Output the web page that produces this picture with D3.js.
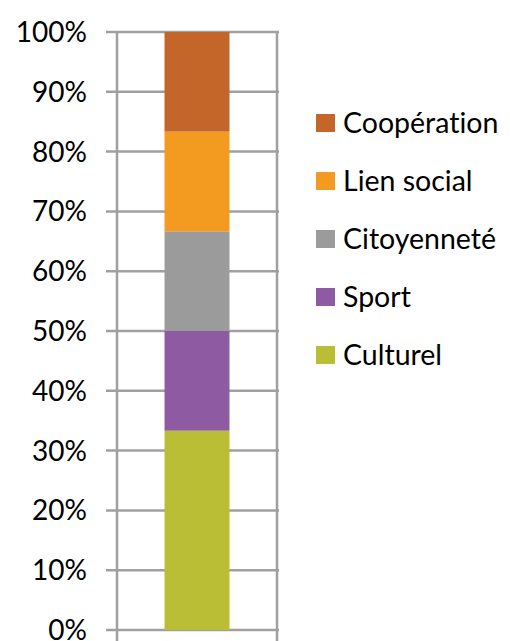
<!DOCTYPE html>
<html>
<head>
    <meta charset="utf-8">
    <script src="https://d3js.org/d3.v7.min.js"></script>
    <style>
        body { margin: 0; background: #fff; }
        .tick-label { font-family: 'Lato', sans-serif; font-size: 28px; fill: #000; }
        .legend text { font-family: 'Lato', sans-serif; font-size: 28.5px; fill: #000; font-variant-ligatures: none; }
    </style>
</head>
<body>
<script>
    // chart data
    var categories = ["Total"];
    var seriesNames = ["Culturel", "Sport", "Citoyenneté", "Lien social", "Coopération"];
    var seriesValues = [0.3333, 0.1667, 0.1667, 0.1667, 0.1666];
    var seriesColors = ["#BABE34", "#8E5BA2", "#9B9B9B", "#F39A21", "#C4662A"];
    var tickValues = [0, 0.1, 0.2, 0.3, 0.4, 0.5, 0.6, 0.7, 0.8, 0.9, 1];

    var svg = d3.select("body").append("svg")
        .attr("width", 510)
        .attr("height", 641);

    var y = d3.scaleLinear().domain([0, 1]).range([630, 32]);
    var x = d3.scaleBand().domain(categories).range([117, 277]).padding(0);
    var color = d3.scaleOrdinal().domain(seriesNames).range(seriesColors);

    // build table for stacking
    var row = { cat: categories[0] };
    seriesNames.forEach(function(k, i) { row[k] = seriesValues[i]; });
    var stacked = d3.stack().keys(seriesNames)([row]);

    // horizontal gridlines
    svg.append("g")
        .selectAll("line")
        .data(tickValues)
        .join("line")
        .attr("x1", 106)
        .attr("x2", 279)
        .attr("y1", function(d) { return y(d); })
        .attr("y2", function(d) { return y(d); })
        .attr("stroke", "#A0A0A0")
        .attr("stroke-width", 2.5);

    // vertical lines (category edges)
    svg.append("g")
        .selectAll("line")
        .data(x.range())
        .join("line")
        .attr("x1", function(d) { return d; })
        .attr("x2", function(d) { return d; })
        .attr("y1", y(1) - 1)
        .attr("y2", 641)
        .attr("stroke", "#A0A0A0")
        .attr("stroke-width", 2.5);

    // tick labels
    svg.append("g")
        .selectAll("text")
        .data(tickValues)
        .join("text")
        .attr("class", "tick-label")
        .attr("x", 87)
        .attr("y", function(d) { return y(d); })
        .attr("dy", "0.36em")
        .attr("text-anchor", "end")
        .text(function(d) { return Math.round(d * 100) + "%"; });

    // stacked bar
    var barW = x.bandwidth() * 0.406;
    svg.append("g")
        .selectAll("rect")
        .data(stacked)
        .join("rect")
        .attr("x", function(s) { return x(s[0].data.cat) + (x.bandwidth() - barW) / 2; })
        .attr("width", barW)
        .attr("y", function(s) { return y(s[0][1]); })
        .attr("height", function(s) { return y(s[0][0]) - y(s[0][1]); })
        .attr("fill", function(s) { return color(s.key); });

    // legend, top item is last series
    var legendItems = seriesNames.slice().reverse();
    var legend = svg.append("g")
        .attr("class", "legend")
        .selectAll("g")
        .data(legendItems)
        .join("g")
        .attr("transform", function(d, i) { return "translate(316," + (123 + i * 58) + ")"; });

    legend.append("rect")
        .attr("x", 0)
        .attr("y", -9)
        .attr("width", 19)
        .attr("height", 18)
        .attr("fill", function(d) { return color(d); });

    legend.append("text")
        .attr("x", 27)
        .attr("y", 0)
        .attr("dy", "0.36em")
        .text(function(d) { return d; });
</script>
</body>
</html>
